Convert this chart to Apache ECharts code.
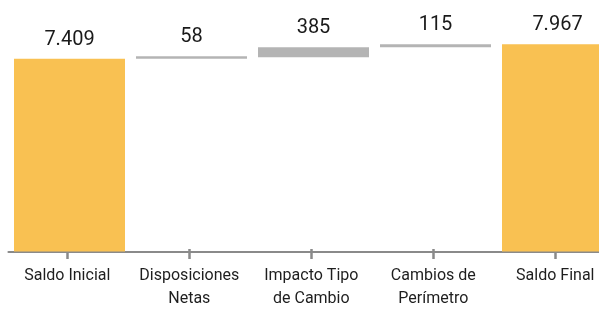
<!DOCTYPE html>
<html>
<head>
<meta charset="utf-8">
<script src="https://cdn.jsdelivr.net/npm/echarts@6/dist/echarts.min.js"></script>
<style>
html,body{margin:0;padding:0;background:#fff;overflow:hidden;width:599px;height:310px;}
#chart{width:625px;height:310px;}
</style>
</head>
<body>
<div id="chart"></div>
<script>
const categories = ["Saldo Inicial", "Disposiciones\nNetas", "Impacto Tipo\nde Cambio", "Cambios de\nPerímetro", "Saldo Final"];
const values = [7409, 58, 385, 115, 7967];
const kinds = ["total", "delta", "delta", "delta", "total"];
const colorTotal = "#F9C152";
const colorDelta = "#B4B4B4";

// build stacking base from values
const base = [];
let running = 0;
values.forEach((v, i) => {
  if (kinds[i] === "total") { base.push(0); running = v; }
  else { base.push(running); running += v; }
});

function fmt(n) {
  return String(n).replace(/\B(?=(\d{3})+(?!\d))/g, ".");
}

const FONT = "Roboto";
const gridTop = 17.5, gridBottom = 58.5;

const chart = echarts.init(document.getElementById("chart"), null, {renderer: "canvas"});
chart.setOption({
  animation: false,
  backgroundColor: "#ffffff",
  grid: [
    {left: 8.5, width: 610, top: gridTop, bottom: gridBottom, containLabel: false},
    {left: 6.3, width: 610, top: gridTop, bottom: gridBottom, containLabel: false}
  ],
  xAxis: [
    {
      type: "category", gridIndex: 0, data: categories,
      axisLine: {show: true, lineStyle: {color: "#8A8A8A", width: 2.2}},
      axisTick: {show: false},
      axisLabel: {show: false},
      splitLine: {show: false}
    },
    {
      type: "category", gridIndex: 1, data: categories,
      axisLine: {show: false},
      axisTick: {show: true, alignWithLabel: true, length: 10, lineStyle: {color: "#8A8A8A", width: 2.5}},
      axisLabel: {
        show: true, interval: 0, margin: 15, color: "#1E1E1E",
        fontFamily: FONT, fontSize: 16, lineHeight: 23
      },
      splitLine: {show: false}
    }
  ],
  yAxis: [
    {type: "value", gridIndex: 0, min: 0, max: 9000, show: false, splitLine: {show: false}},
    {type: "value", gridIndex: 1, min: 0, max: 9000, show: false, splitLine: {show: false}}
  ],
  series: [
    {
      type: "bar", xAxisIndex: 0, yAxisIndex: 0, stack: "wf",
      data: base, barWidth: 111,
      itemStyle: {color: "rgba(0,0,0,0)"},
      emphasis: {disabled: true},
      silent: true
    },
    {
      type: "bar", xAxisIndex: 0, yAxisIndex: 0, stack: "wf",
      barWidth: 111, barMinHeight: 2.5,
      data: values.map((v, i) => ({
        value: v,
        itemStyle: {color: kinds[i] === "total" ? colorTotal : colorDelta}
      })),
      label: {
        show: true, position: "top", distance: 9,
        color: "#1A1A1A", fontFamily: FONT, fontSize: 20,
        formatter: p => fmt(p.value)
      }
    }
  ]
});
</script>
</body>
</html>
